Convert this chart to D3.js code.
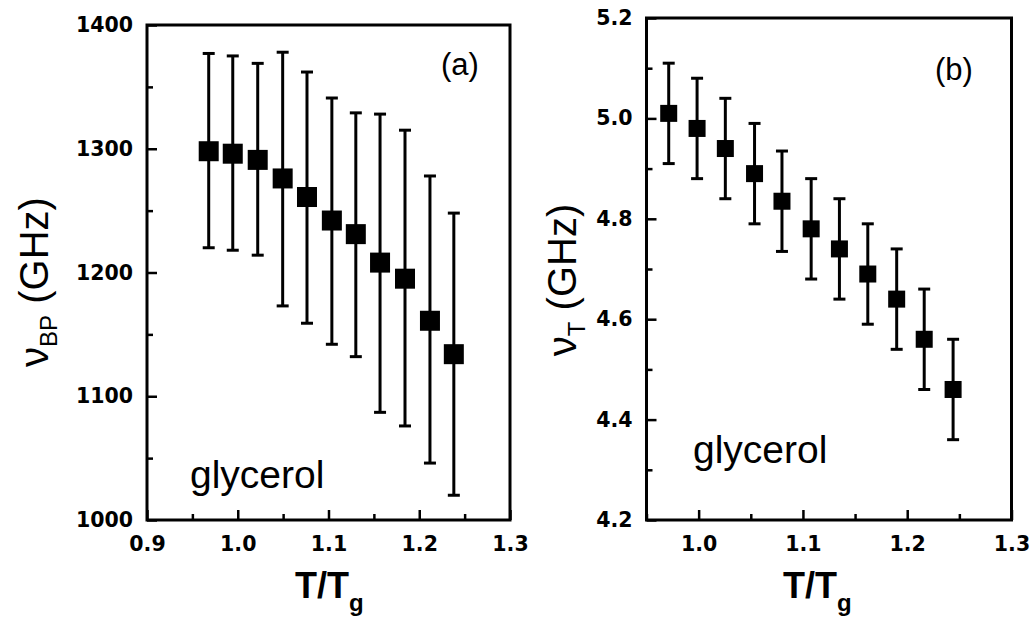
<!DOCTYPE html>
<html>
<head>
<meta charset="utf-8">
<script src="https://cdn.jsdelivr.net/npm/d3@7/dist/d3.min.js"></script>
<style>
  html, body { margin: 0; padding: 0; background: #fff; }
  svg { display: block; }
</style>
</head>
<body>
<svg id="chart" width="1035" height="623"></svg>
<script>
// ---------- data: panel (a) ----------
const aX   = [0.968, 0.9945, 1.022, 1.0495, 1.0763, 1.1037, 1.1301, 1.1568, 1.1843, 1.2118, 1.2381];
const aY   = [1298, 1296, 1291, 1276, 1261, 1242, 1231, 1208, 1195, 1161, 1134];
const aHi  = [1377, 1375, 1369, 1378, 1362, 1341, 1329, 1328, 1315, 1278, 1248];
const aLo  = [1220, 1218, 1214, 1173, 1159, 1142, 1132, 1087, 1076, 1046, 1020];
const aXTicks = [0.9, 1.0, 1.1, 1.2, 1.3];
const aXMinor = [0.95, 1.05, 1.15, 1.25];
const aYTicks = [1000, 1100, 1200, 1300, 1400];
const aYMinor = [1050, 1150, 1250, 1350];

// ---------- data: panel (b) ----------
const bX   = [0.9713, 0.9985, 1.0256, 1.0536, 1.0799, 1.1079, 1.1350, 1.1622, 1.1899, 1.2163, 1.2440];
const bY   = [5.01, 4.98, 4.94, 4.89, 4.835, 4.78, 4.74, 4.69, 4.64, 4.56, 4.46];
const bErr = [0.1, 0.1, 0.1, 0.1, 0.1, 0.1, 0.1, 0.1, 0.1, 0.1, 0.1];
const bXTicks = [1.0, 1.1, 1.2, 1.3];
const bXMinor = [0.95, 1.05, 1.15, 1.25];
const bYTicks = [4.2, 4.4, 4.6, 4.8, 5.0, 5.2];
const bYMinor = [4.3, 4.5, 4.7, 4.9, 5.1];

const svg = d3.select("#chart");
const tickFont = "'DejaVu Sans', sans-serif";
const textFont = "'Liberation Sans', Arial, sans-serif";

function panel(cfg) {
  const x = d3.scaleLinear().domain(cfg.xDomain).range([cfg.left, cfg.right]);
  const y = d3.scaleLinear().domain(cfg.yDomain).range([cfg.bottom, cfg.top]);
  const g = svg.append("g");

  // x axis major
  const xa = g.append("g").attr("transform", `translate(0,${cfg.bottom})`)
    .call(d3.axisBottom(x).tickValues(cfg.xTicks).tickSize(-10).tickFormat(d3.format(".1f")));
  xa.select(".domain").remove();
  xa.selectAll(".tick line").attr("stroke", "#000").attr("stroke-width", 2.5);
  xa.selectAll(".tick text").attr("dy", null).attr("y", 31)
    .attr("font-family", tickFont).attr("font-weight", "bold").attr("font-size", 20.5).attr("fill", "#000");
  // x axis minor
  const xm = g.append("g").attr("transform", `translate(0,${cfg.bottom})`)
    .call(d3.axisBottom(x).tickValues(cfg.xMinor).tickSize(-6).tickFormat(""));
  xm.select(".domain").remove();
  xm.selectAll(".tick line").attr("stroke", "#000").attr("stroke-width", 2.5);

  // y axis major
  const ya = g.append("g").attr("transform", `translate(${cfg.left},0)`)
    .call(d3.axisLeft(y).tickValues(cfg.yTicks).tickSize(-10).tickPadding(14).tickFormat(cfg.yFormat));
  ya.select(".domain").remove();
  ya.selectAll(".tick line").attr("stroke", "#000").attr("stroke-width", 2.5);
  ya.selectAll(".tick text").attr("x", -14)
    .attr("font-family", tickFont).attr("font-weight", "bold").attr("font-size", 20.5).attr("fill", "#000");
  const ym = g.append("g").attr("transform", `translate(${cfg.left},0)`)
    .call(d3.axisLeft(y).tickValues(cfg.yMinor).tickSize(-6).tickFormat(""));
  ym.select(".domain").remove();
  ym.selectAll(".tick line").attr("stroke", "#000").attr("stroke-width", 2.5);

  // frame
  g.append("rect")
    .attr("x", cfg.left).attr("y", cfg.top)
    .attr("width", cfg.right - cfg.left).attr("height", cfg.bottom - cfg.top)
    .attr("fill", "none").attr("stroke", "#000").attr("stroke-width", 3);

  // error bars
  const pts = cfg.xs.map((v, i) => ({x: v, y: cfg.ys[i], hi: cfg.his[i], lo: cfg.los[i]}));
  const eb = g.append("g");
  eb.selectAll("line.v").data(pts).join("line").attr("class", "v")
    .attr("x1", d => x(d.x)).attr("x2", d => x(d.x))
    .attr("y1", d => y(d.hi)).attr("y2", d => y(d.lo))
    .attr("stroke", "#000").attr("stroke-width", 3);
  eb.selectAll("line.ct").data(pts).join("line").attr("class", "ct")
    .attr("x1", d => x(d.x) - cfg.cap / 2).attr("x2", d => x(d.x) + cfg.cap / 2)
    .attr("y1", d => y(d.hi)).attr("y2", d => y(d.hi))
    .attr("stroke", "#000").attr("stroke-width", 3);
  eb.selectAll("line.cb").data(pts).join("line").attr("class", "cb")
    .attr("x1", d => x(d.x) - cfg.cap / 2).attr("x2", d => x(d.x) + cfg.cap / 2)
    .attr("y1", d => y(d.lo)).attr("y2", d => y(d.lo))
    .attr("stroke", "#000").attr("stroke-width", 3);
  // markers
  g.append("g").selectAll("rect").data(pts).join("rect")
    .attr("x", d => x(d.x) - cfg.ms / 2).attr("y", d => y(d.y) - cfg.ms / 2)
    .attr("width", cfg.ms).attr("height", cfg.ms).attr("fill", "#000");

  // panel label
  g.append("text").attr("x", cfg.labelX).attr("y", cfg.labelY)
    .attr("font-family", textFont).attr("font-size", 31).attr("fill", "#000")
    .text(cfg.label);
  // glycerol
  g.append("text").attr("x", cfg.glyX).attr("y", cfg.glyY)
    .attr("font-family", textFont).attr("font-size", 39).attr("fill", "#000")
    .text("glycerol");

  // x title
  const xt = g.append("text").attr("x", cfg.xtX).attr("y", 598)
    .attr("font-family", textFont).attr("font-weight", "bold").attr("font-size", 36).attr("fill", "#000");
  xt.append("tspan").text("T/T");
  xt.append("tspan").attr("font-size", 24).attr("dy", 13).text("g");

  // y title
  const yt = g.append("text")
    .attr("transform", `translate(${cfg.ytX},${cfg.ytY}) rotate(-90)`)
    .attr("text-anchor", "middle")
    .attr("font-family", textFont).attr("font-size", 40).attr("fill", "#000");
  yt.append("tspan").text("ν");
  yt.append("tspan").attr("font-size", 24).attr("dy", 9).text(cfg.ySub);
  yt.append("tspan").attr("dy", -9).text(" (GHz)");
}

panel({
  left: 147, right: 510, top: 25, bottom: 520,
  xDomain: [0.9, 1.3], yDomain: [1000, 1400],
  xTicks: aXTicks, xMinor: aXMinor, yTicks: aYTicks, yMinor: aYMinor,
  yFormat: d3.format("d"),
  xs: aX, ys: aY, his: aHi, los: aLo,
  cap: 12, ms: 20,
  label: "(a)", labelX: 441, labelY: 75,
  glyX: 190, glyY: 488,
  xtX: 295, ytX: 48, ytY: 282, ySub: "BP"
});

panel({
  left: 646.5, right: 1011.5, top: 18, bottom: 520,
  xDomain: [0.95, 1.3], yDomain: [4.2, 5.2],
  xTicks: bXTicks, xMinor: bXMinor, yTicks: bYTicks, yMinor: bYMinor,
  yFormat: d3.format(".1f"),
  xs: bX, ys: bY, his: bY.map((v, i) => v + bErr[i]), los: bY.map((v, i) => v - bErr[i]),
  cap: 12, ms: 17,
  label: "(b)", labelX: 935, labelY: 80,
  glyX: 693, glyY: 463,
  xtX: 783, ytX: 576, ytY: 280, ySub: "T"
});
</script>
</body>
</html>
